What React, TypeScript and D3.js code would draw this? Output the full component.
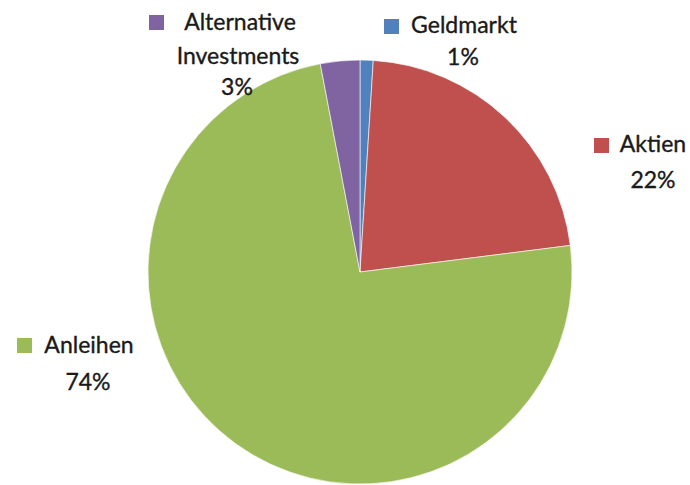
import React from "react";
import * as d3 from "d3";

const categories = ["Geldmarkt", "Aktien", "Anleihen", "Alternative Investments"];
const values = [1, 22, 74, 3];
const colors = ["#4F81BD", "#C0504D", "#9BBB59", "#8064A2"];

// label layout (lines, anchor centre, baselines, square position)
const labelLayout = [
  { lines: ["Geldmarkt", "1%"], cx: [464, 463], by: [33, 65], sq: [384, 19] },
  { lines: ["Aktien", "22%"], cx: [653, 653], by: [152, 188], sq: [594, 138] },
  { lines: ["Anleihen", "74%"], cx: [89, 88], by: [353, 390], sq: [17, 338] },
  { lines: ["Alternative", "Investments", "3%"], cx: [240, 238, 237], by: [30, 64, 95], sq: [149, 15] },
];

const W = 690;
const H = 485;
const CX = 360;
const CY = 272;
const R = 212;

export default function App() {
  const pie = d3.pie<number>().sort(null).startAngle(0).endAngle(2 * Math.PI)(values);
  const arc = d3.arc<d3.PieArcDatum<number>>().innerRadius(0).outerRadius(R);
  return (
    <svg
      width={W}
      height={H}
      style={{ position: "absolute", left: 0, top: 0, background: "#fff" }}
      fontFamily="Lato, 'Open Sans', sans-serif"
    >
      <g transform={`translate(${CX},${CY})`}>
        {pie.map((d, i) => (
          <path key={categories[i]} d={arc(d) || ""} fill={colors[i]} stroke="#fff" strokeWidth={0.6} />
        ))}
      </g>
      {labelLayout.map((l, i) => (
        <g key={categories[i]}>
          <rect x={l.sq[0]} y={l.sq[1]} width={15} height={15} fill={colors[i]} />
          {l.lines.map((t, j) => (
            <text
              key={j}
              x={l.cx[j]}
              y={l.by[j]}
              textAnchor="middle"
              fontSize={23}
              fill="#1a1a1a"
              stroke="#1a1a1a"
              strokeWidth={0.35}
            >
              {t}
            </text>
          ))}
        </g>
      ))}
    </svg>
  );
}
